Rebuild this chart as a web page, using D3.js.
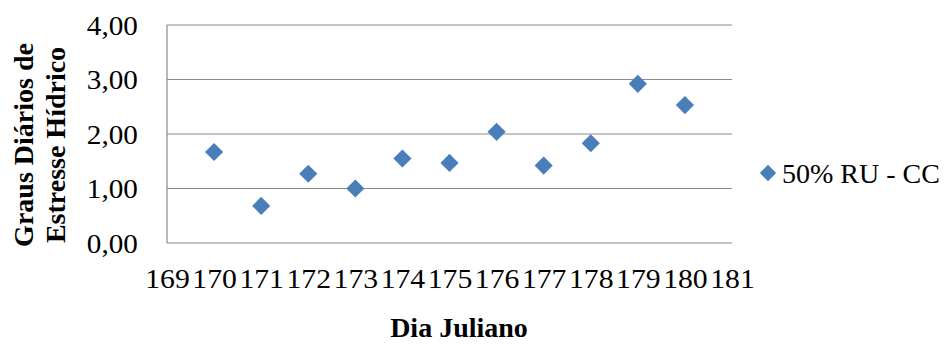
<!DOCTYPE html>
<html>
<head>
<meta charset="utf-8">
<script src="https://cdn.jsdelivr.net/npm/d3@7"></script>
<style>
  html, body { margin: 0; padding: 0; background: #fff; }
  svg { display: block; }
</style>
</head>
<body>
<svg id="chart" width="945" height="345"></svg>
<script>
const days = [170, 171, 172, 173, 174, 175, 176, 177, 178, 179, 180];
const values = [1.67, 0.68, 1.27, 1.00, 1.55, 1.47, 2.04, 1.42, 1.83, 2.92, 2.53];
const xTicks = [169, 170, 171, 172, 173, 174, 175, 176, 177, 178, 179, 180, 181];
const yTicks = [0, 1, 2, 3, 4];
const seriesName = "50% RU - CC";
const xTitle = "Dia Juliano";
const yTitleLines = ["Graus Diários de", "Estresse Hídrico"];

const svg = d3.select("#chart");
const margin = { left: 167, right: 213, top: 25, bottom: 102 };
const W = 945, H = 345;
const x = d3.scaleLinear().domain([169, 181]).range([margin.left, W - margin.right]);
const y = d3.scaleLinear().domain([0, 4]).range([H - margin.bottom, margin.top]);
const serif = "'Liberation Serif', 'Times New Roman', serif";
const color = "#4a7ebb";

// gridlines
svg.append("g")
  .selectAll("line")
  .data(yTicks)
  .join("line")
  .attr("x1", x.range()[0]).attr("x2", x.range()[1])
  .attr("y1", d => y(d)).attr("y2", d => y(d))
  .attr("stroke", "#8a8a8a").attr("stroke-width", 1.2);

// y axis line
svg.append("line")
  .attr("x1", x.range()[0]).attr("x2", x.range()[0])
  .attr("y1", y(0)).attr("y2", y(4))
  .attr("stroke", "#8a8a8a").attr("stroke-width", 1.2);

// y tick labels
const fmt = d => d3.format(".2f")(d).replace(".", ",");
const yAxis = svg.append("g")
  .attr("transform", `translate(${x.range()[0]},0)`)
  .call(d3.axisLeft(y).tickValues(yTicks).tickFormat(fmt).tickSize(0).tickPadding(0));
yAxis.select(".domain").remove();
yAxis.selectAll("text")
  .attr("x", -27)
  .attr("transform", "scale(1.08,1)")
  .attr("font-family", serif).attr("font-size", 27).attr("fill", "#000")
  .attr("dy", "0.34em");

// x tick labels
const xAxis = svg.append("g")
  .attr("transform", `translate(0,${y(0)})`)
  .call(d3.axisBottom(x).tickValues(xTicks).tickFormat(d3.format("d")).tickSize(0).tickPadding(26));
xAxis.select(".domain").remove();
xAxis.selectAll("text")
  .attr("transform", "scale(1.1,1)")
  .attr("font-family", serif).attr("font-size", 27).attr("fill", "#000")
  .attr("dy", "0.71em");

// points
const diamond = d3.symbol().type(d3.symbolSquare).size(165);
svg.append("g")
  .selectAll("path")
  .data(days.map((d, i) => ({ day: d, v: values[i] })))
  .join("path")
  .attr("d", diamond)
  .attr("transform", d => `translate(${x(d.day)},${y(d.v)}) rotate(45)`)
  .attr("fill", color);

// x title
svg.append("text")
  .attr("x", 459).attr("y", 337)
  .attr("text-anchor", "middle")
  .attr("font-family", serif).attr("font-weight", "bold").attr("font-size", 28)
  .text(xTitle);

// y title
const yt = svg.append("text")
  .attr("transform", "translate(0,145) rotate(-90)")
  .attr("text-anchor", "middle")
  .attr("font-family", serif).attr("font-weight", "bold").attr("font-size", 28);
yt.selectAll("tspan")
  .data(yTitleLines)
  .join("tspan")
  .attr("x", 0)
  .attr("y", (d, i) => 33 + i * 32)
  .text(d => d);

// legend
const lg = svg.append("g").attr("transform", "translate(768,173)");
lg.append("path")
  .attr("d", d3.symbol().type(d3.symbolSquare).size(135))
  .attr("transform", "rotate(45)")
  .attr("fill", color);
lg.append("text")
  .attr("x", 14).attr("y", 0).attr("dy", "0.34em")
  .attr("font-family", serif).attr("font-size", 28)
  .text(seriesName);
</script>
</body>
</html>
